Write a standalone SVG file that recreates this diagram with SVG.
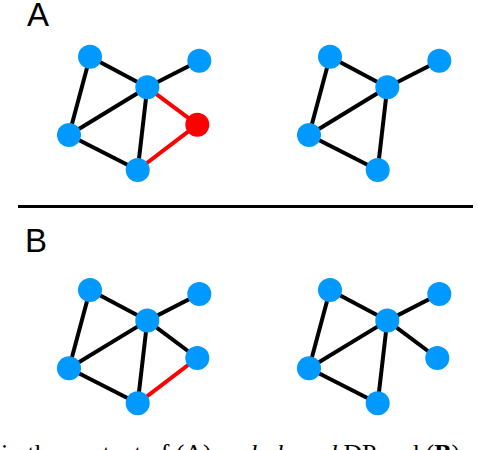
<svg xmlns="http://www.w3.org/2000/svg" width="478" height="450" viewBox="0 0 478 450">
<style>
.e{stroke:#000;stroke-width:4;fill:none}
.r{stroke:#ff0000;stroke-width:4;fill:none}
.n{fill:#0099ff}
.nr{fill:#ff0000}
.lab{font-family:"Liberation Sans",Arial,sans-serif;font-size:33px;fill:#000}
.cap{font-family:"Liberation Serif","Times New Roman",serif;font-size:25.8px;fill:#000}
</style>
<rect width="478" height="450" fill="#fff"/>
<text class="lab" x="27" y="26">A</text>
<text class="lab" x="25" y="252">B</text>
<line x1="18" y1="206.5" x2="473" y2="206.5" stroke="#000" stroke-width="3.2"/>
<g id="connectors">
  <g transform="translate(0,0)">
    <line class="e" x1="90" y1="56.7" x2="69" y2="135"/>
    <line class="e" x1="90" y1="56.7" x2="147.3" y2="87.3"/>
    <line class="e" x1="147.3" y1="87.3" x2="199.3" y2="60.7"/>
    <line class="e" x1="147.3" y1="87.3" x2="69" y2="135"/>
    <line class="e" x1="147.3" y1="87.3" x2="137.7" y2="170"/>
    <line class="e" x1="69" y1="135" x2="137.7" y2="170"/>
    <line class="r" x1="147.3" y1="87.3" x2="197.3" y2="124.7"/>
    <line class="r" x1="197.3" y1="124.7" x2="137.7" y2="170"/>
  </g>
  <g transform="translate(240,0)">
    <line class="e" x1="90" y1="56.7" x2="69" y2="135"/>
    <line class="e" x1="90" y1="56.7" x2="147.3" y2="87.3"/>
    <line class="e" x1="147.3" y1="87.3" x2="199.3" y2="60.7"/>
    <line class="e" x1="147.3" y1="87.3" x2="69" y2="135"/>
    <line class="e" x1="147.3" y1="87.3" x2="137.7" y2="170"/>
    <line class="e" x1="69" y1="135" x2="137.7" y2="170"/>
  </g>
  <g transform="translate(0,233.3)">
    <line class="e" x1="90" y1="56.7" x2="69" y2="135"/>
    <line class="e" x1="90" y1="56.7" x2="147.3" y2="87.3"/>
    <line class="e" x1="147.3" y1="87.3" x2="199.3" y2="60.7"/>
    <line class="e" x1="147.3" y1="87.3" x2="69" y2="135"/>
    <line class="e" x1="147.3" y1="87.3" x2="137.7" y2="170"/>
    <line class="e" x1="69" y1="135" x2="137.7" y2="170"/>
    <line class="e" x1="147.3" y1="87.3" x2="197.3" y2="124.7"/>
    <line class="r" x1="197.3" y1="124.7" x2="137.7" y2="170"/>
  </g>
  <g transform="translate(240,233.3)">
    <line class="e" x1="90" y1="56.7" x2="69" y2="135"/>
    <line class="e" x1="90" y1="56.7" x2="147.3" y2="87.3"/>
    <line class="e" x1="147.3" y1="87.3" x2="199.3" y2="60.7"/>
    <line class="e" x1="147.3" y1="87.3" x2="69" y2="135"/>
    <line class="e" x1="147.3" y1="87.3" x2="137.7" y2="170"/>
    <line class="e" x1="69" y1="135" x2="137.7" y2="170"/>
    <line class="e" x1="147.3" y1="87.3" x2="197.3" y2="124.7"/>
  </g>
</g>
<g id="A1-tl"><circle class="n" cx="90" cy="56.7" r="12"/></g>
<g id="A1-tr"><circle class="n" cx="199.3" cy="60.7" r="12"/></g>
<g id="A1-hub"><circle class="n" cx="147.3" cy="87.3" r="12"/></g>
<g id="A1-red"><circle class="nr" cx="197.3" cy="124.7" r="12"/></g>
<g id="A1-left"><circle class="n" cx="69" cy="135" r="12"/></g>
<g id="A1-bot"><circle class="n" cx="137.7" cy="170" r="12"/></g>
<g id="A2-tl"><circle class="n" cx="330" cy="56.7" r="12"/></g>
<g id="A2-tr"><circle class="n" cx="439.3" cy="60.7" r="12"/></g>
<g id="A2-hub"><circle class="n" cx="387.3" cy="87.3" r="12"/></g>
<g id="A2-left"><circle class="n" cx="309" cy="135" r="12"/></g>
<g id="A2-bot"><circle class="n" cx="377.7" cy="170" r="12"/></g>
<g id="B1-tl"><circle class="n" cx="90" cy="290" r="12"/></g>
<g id="B1-tr"><circle class="n" cx="199.3" cy="294" r="12"/></g>
<g id="B1-hub"><circle class="n" cx="147.3" cy="320.6" r="12"/></g>
<g id="B1-right"><circle class="n" cx="197.3" cy="358" r="12"/></g>
<g id="B1-left"><circle class="n" cx="69" cy="368.3" r="12"/></g>
<g id="B1-bot"><circle class="n" cx="137.7" cy="403.3" r="12"/></g>
<g id="B2-tl"><circle class="n" cx="330" cy="290" r="12"/></g>
<g id="B2-tr"><circle class="n" cx="439.3" cy="294" r="12"/></g>
<g id="B2-hub"><circle class="n" cx="387.3" cy="320.6" r="12"/></g>
<g id="B2-right"><circle class="n" cx="437.3" cy="358" r="12"/></g>
<g id="B2-left"><circle class="n" cx="309" cy="368.3" r="12"/></g>
<g id="B2-bot"><circle class="n" cx="377.7" cy="403.3" r="12"/></g>
<text class="cap" x="1" y="462">in the context of (A) <tspan font-style="italic">node-based</tspan> DP and (<tspan font-weight="bold">B</tspan>)</text>
</svg>
